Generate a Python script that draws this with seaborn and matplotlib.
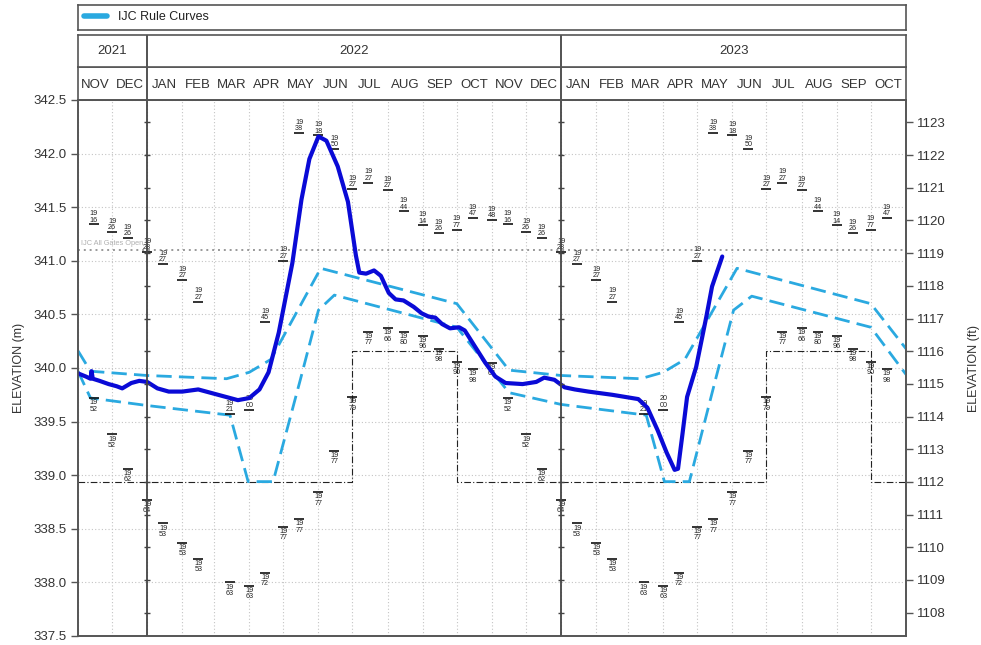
import numpy as np
import pandas as pd
import matplotlib
matplotlib.use("Agg")
import matplotlib.pyplot as plt
import matplotlib.dates as mdates
from matplotlib.lines import Line2D
import seaborn as sns

sns.set_theme(style="white")
plt.rcParams['font.family'] = ['Liberation Sans', 'DejaVu Sans']

# ---------------- data ----------------
obs_dates = ["2021-11-01", "2021-11-08", "2021-11-12", "2021-11-13", "2021-11-14", "2021-11-20",
             "2021-11-28", "2021-12-05", "2021-12-10", "2021-12-18", "2021-12-25", "2022-01-01",
             "2022-01-10", "2022-01-20", "2022-02-01", "2022-02-15", "2022-03-01", "2022-03-15",
             "2022-03-22", "2022-04-01", "2022-04-10", "2022-04-18", "2022-04-27", "2022-05-09",
             "2022-05-17", "2022-05-24", "2022-06-01", "2022-06-08", "2022-06-18", "2022-06-27",
             "2022-07-04", "2022-07-07", "2022-07-13", "2022-07-20", "2022-07-26", "2022-08-02",
             "2022-08-08", "2022-08-15", "2022-08-24", "2022-08-31", "2022-09-06", "2022-09-12",
             "2022-09-18", "2022-09-25", "2022-10-03", "2022-10-08", "2022-10-17", "2022-10-26",
             "2022-11-04", "2022-11-13", "2022-11-28", "2022-12-10", "2022-12-17", "2022-12-26",
             "2023-01-04", "2023-01-13", "2023-01-25", "2023-02-15", "2023-03-10", "2023-03-18",
             "2023-03-27", "2023-04-04", "2023-04-11", "2023-04-14", "2023-04-18", "2023-04-22",
             "2023-04-30", "2023-05-09", "2023-05-14", "2023-05-23"]
obs_m = [339.95, 339.92, 339.90, 339.97, 339.90, 339.88,
         339.85, 339.83, 339.81, 339.86, 339.88, 339.87,
         339.81, 339.78, 339.78, 339.80, 339.76, 339.72,
         339.70, 339.72, 339.80, 339.96, 340.33, 340.98,
         341.57, 341.95, 342.16, 342.12, 341.88, 341.55,
         341.05, 340.89, 340.88, 340.91, 340.86, 340.70,
         340.64, 340.63, 340.57, 340.51, 340.48, 340.47,
         340.41, 340.37, 340.38, 340.35, 340.20, 340.05,
         339.92, 339.86, 339.85, 339.87, 339.91, 339.89,
         339.82, 339.80, 339.78, 339.75, 339.71, 339.63,
         339.42, 339.21, 339.05, 339.06, 339.39, 339.73,
         340.01, 340.48, 340.76, 341.04]

upper_dates = ["2021-11-01", "2021-11-12", "2022-01-01", "2022-03-12", "2022-04-01", "2022-04-20",
               "2022-06-03", "2022-10-01", "2022-11-16", "2023-01-01", "2023-03-12", "2023-04-01",
               "2023-04-20", "2023-06-05", "2023-10-01", "2023-11-01"]
upper_m = [340.16, 339.97, 339.93, 339.90, 339.96, 340.08,
           340.93, 340.60, 339.98, 339.93, 339.90, 339.96,
           340.08, 340.93, 340.60, 340.18]

lower_dates = ["2021-11-01", "2021-11-12", "2022-01-01", "2022-03-15", "2022-03-31", "2022-04-22",
               "2022-05-16", "2022-06-01", "2022-06-15", "2022-10-01", "2022-11-16", "2023-01-01",
               "2023-03-17", "2023-04-02", "2023-04-24", "2023-05-17", "2023-06-02", "2023-06-18",
               "2023-10-01", "2023-11-01"]
lower_m = [339.97, 339.72, 339.65, 339.56, 338.94, 338.94,
           339.89, 340.54, 340.68, 340.38, 339.77, 339.66,
           339.56, 338.94, 338.94, 339.89, 340.54, 340.67,
           340.38, 339.94]

step_dates = ["2021-11-01", "2022-07-01", "2022-10-01", "2023-07-01", "2023-10-01", "2023-11-01"]
step_m = [338.94, 340.16, 338.94, 340.16, 338.94, 338.94]

gates_open_m = 341.10
gates_open_label = "IJC All Gates Open"

slot_mmdd = ["01-01", "01-15", "02-01", "02-15", "03-01", "03-15", "04-01", "04-15",
             "05-01", "05-15", "06-01", "06-15", "07-01", "07-15", "08-01", "08-15",
             "09-01", "09-15", "10-01", "10-15", "11-01", "11-15", "12-01", "12-15"]
max_m = [341.08, 340.97, 340.82, 340.62, None, 339.57, 339.61, 340.43,
         341.00, 342.19, 342.17, 342.04, 341.67, 341.73, 341.66, 341.46,
         341.33, 341.26, 341.29, 341.40, 341.38, 341.34, 341.27, 341.21]
max_year = ["1928", "1927", "1927", "1927", "", "1921", "2000", "1945",
            "1927", "1938", "1918", "1950", "1927", "1927", "1927", "1944",
            "1914", "1926", "1977", "1947", "1948", "1916", "1926", "1926"]
min_m = [338.77, 338.55, 338.37, 338.22, None, 338.00, 337.97, 338.09,
         338.52, 338.59, 338.84, 339.23, 339.73, 340.34, 340.37, 340.34,
         340.30, 340.18, 340.06, 339.99, 340.05, 339.72, 339.38, 339.06]
min_year = ["1964", "1953", "1953", "1953", "", "1963", "1963", "1972",
            "1977", "1977", "1977", "1977", "1979", "1977", "1966", "1980",
            "1996", "1998", "1990", "1998", "1964", "1952", "1952", "1962"]

month_labels = ["NOV", "DEC", "JAN", "FEB", "MAR", "APR", "MAY", "JUN", "JUL", "AUG", "SEP", "OCT",
                "NOV", "DEC", "JAN", "FEB", "MAR", "APR", "MAY", "JUN", "JUL", "AUG", "SEP", "OCT"]
year_labels = ["2021", "2022", "2023"]
year_bounds = ["2021-11-01", "2022-01-01", "2023-01-01", "2023-11-01"]
left_ticks = [337.5, 338.0, 338.5, 339.0, 339.5, 340.0, 340.5, 341.0, 341.5, 342.0, 342.5]
right_ticks_ft = list(range(1108, 1124))
FT = 0.3048

# ---------------- colours ----------------
OBS_C = "#0a0ad6"
RULE_C = "#2aa9e0"
DARK = "#555555"
TXT = "#333333"

# ---------------- figure ----------------
W, H = 981, 645
fig = plt.figure(figsize=(W / 100, H / 100), dpi=100)


def rect(x0, y0, x1, y1):
    return [x0 / W, 1 - y1 / H, (x1 - x0) / W, (y1 - y0) / H]


ax = fig.add_axes(rect(78, 100, 906, 636))
ax_mon = fig.add_axes(rect(78, 67, 906, 100))
ax_yr = fig.add_axes(rect(78, 35, 906, 67))
ax_leg = fig.add_axes(rect(78, 5, 906, 30))

xmin = pd.Timestamp(year_bounds[0])
xmax = pd.Timestamp(year_bounds[-1])

# step / regulation line
sns.lineplot(x=pd.to_datetime(step_dates), y=step_m, ax=ax, color="#222222", lw=0.8,
             linestyle=(0, (6, 2, 1, 2)), drawstyle="steps-post", estimator=None, zorder=2)

# all gates open
ax.axhline(gates_open_m, color="#999999", lw=1.4, ls=(0, (1, 2)), zorder=2)
ax.text(pd.Timestamp("2021-11-04"), gates_open_m + 0.03, gates_open_label, fontsize=5.3,
        color="#b0b0b0", ha="left", va="bottom", zorder=3)

# rule curves
sns.lineplot(x=pd.to_datetime(upper_dates), y=upper_m, ax=ax, color=RULE_C, lw=2.0,
             linestyle=(0, (5.5, 2.6)), estimator=None, zorder=3)
sns.lineplot(x=pd.to_datetime(lower_dates), y=lower_m, ax=ax, color=RULE_C, lw=2.0,
             linestyle=(0, (5.5, 2.6)), estimator=None, zorder=3)

# records
rec_rows = []
for yr in [2021, 2022, 2023]:
    for i, md in enumerate(slot_mmdd):
        d = pd.Timestamp(f"{yr}-{md}")
        if d <= xmin or d >= xmax:
            continue
        if max_m[i] is not None:
            rec_rows.append((d, max_m[i], max_year[i], "max"))
        if min_m[i] is not None:
            rec_rows.append((d, min_m[i], min_year[i], "min"))
rec = pd.DataFrame(rec_rows, columns=["date", "value", "year", "kind"])
sns.scatterplot(data=rec, x="date", y="value", marker="_", s=45, color="#111111",
                linewidth=1.2, ax=ax, zorder=4, legend=False)
for _, r in rec.iterrows():
    lab = r["year"][:2] + "\n" + r["year"][2:]
    if r["kind"] == "max":
        ax.annotate(lab, (r["date"], r["value"]), xytext=(0, 0.6), textcoords="offset points",
                    ha="center", va="bottom", fontsize=5.2, color="#222222", linespacing=0.9,
                    zorder=4)
    else:
        ax.annotate(lab, (r["date"], r["value"]), xytext=(0, -0.8), textcoords="offset points",
                    ha="center", va="top", fontsize=5.2, color="#222222", linespacing=0.9,
                    zorder=4)

# observed
sns.lineplot(x=pd.to_datetime(obs_dates), y=obs_m, ax=ax, color=OBS_C, lw=3.0,
             estimator=None, zorder=5)

# axes formatting
ax.set_xlim(xmin, xmax)
ax.set_ylim(337.5, 342.5)
ax.set_yticks(left_ticks)
ax.set_yticklabels([f"{v:.1f}" for v in left_ticks])
ax.xaxis.set_major_locator(mdates.MonthLocator())
ax.set_xticklabels([])
ax.tick_params(axis="x", length=0)
ax.tick_params(axis="y", length=5, width=1, color=DARK, labelsize=9.5, labelcolor=TXT, pad=3,
               left=True, direction="out")
ax.grid(True, axis="both", color="#c4c4c4", lw=0.8, ls=(0, (1, 2)))
ax.set_xlabel("")
ax.set_ylabel("ELEVATION (m)", fontsize=9, color=TXT, labelpad=6)
for s in ax.spines.values():
    s.set_color(DARK)
    s.set_linewidth(1.2)

ax2 = ax.twinx()
ax2.set_ylim(337.5 / FT, 342.5 / FT)
ax2.set_yticks(right_ticks_ft)
ax2.set_yticklabels([str(v) for v in right_ticks_ft])
ax2.tick_params(axis="y", length=5, width=1, color=DARK, labelsize=9.5, labelcolor=TXT, pad=3,
                right=True, direction="out")
ax2.set_ylabel("ELEVATION (ft)", fontsize=9, color=TXT, labelpad=16)
for s in ax2.spines.values():
    s.set_color(DARK)
    s.set_linewidth(1.2)
ax2.grid(False)

# year dividers with small ticks
for b in year_bounds[1:-1]:
    bd = pd.Timestamp(b)
    ax.axvline(bd, color="#444444", lw=1.3, zorder=6)
    ax2.plot([bd] * len(right_ticks_ft), right_ticks_ft, marker="_", ms=5, mew=1,
             ls="none", color="#444444", zorder=6)

# header: months
ax_mon.set_xlim(xmin, xmax)
ax_mon.set_ylim(0, 1)
mstarts = pd.date_range(year_bounds[0], periods=len(month_labels) + 1, freq="MS")
for i, lab in enumerate(month_labels):
    mid = mstarts[i] + (mstarts[i + 1] - mstarts[i]) / 2
    ax_mon.text(mid, 0.45, lab, ha="center", va="center", fontsize=9.5, color=TXT)
# header: years
ax_yr.set_xlim(xmin, xmax)
ax_yr.set_ylim(0, 1)
for i, lab in enumerate(year_labels):
    a, b = pd.Timestamp(year_bounds[i]), pd.Timestamp(year_bounds[i + 1])
    ax_yr.text(a + (b - a) / 2, 0.5, lab, ha="center", va="center", fontsize=9.5, color=TXT)
for hax in (ax_mon, ax_yr):
    for b in year_bounds[1:-1]:
        hax.axvline(pd.Timestamp(b), color="#444444", lw=1.3)
    hax.set_xticks([])
    hax.set_yticks([])
    for s in hax.spines.values():
        s.set_color(DARK)
        s.set_linewidth(1.2)

# legend box
ax_leg.set_xticks([])
ax_leg.set_yticks([])
for s in ax_leg.spines.values():
    s.set_color(DARK)
    s.set_linewidth(1.2)
ax_leg.legend(handles=[Line2D([], [], color=RULE_C, lw=4)], labels=["IJC Rule Curves"],
              loc="center left", frameon=False, fontsize=9, handlelength=1.8,
              borderaxespad=0.1, handletextpad=0.9, labelcolor="#222222")

fig.savefig("out.png", dpi=100)
